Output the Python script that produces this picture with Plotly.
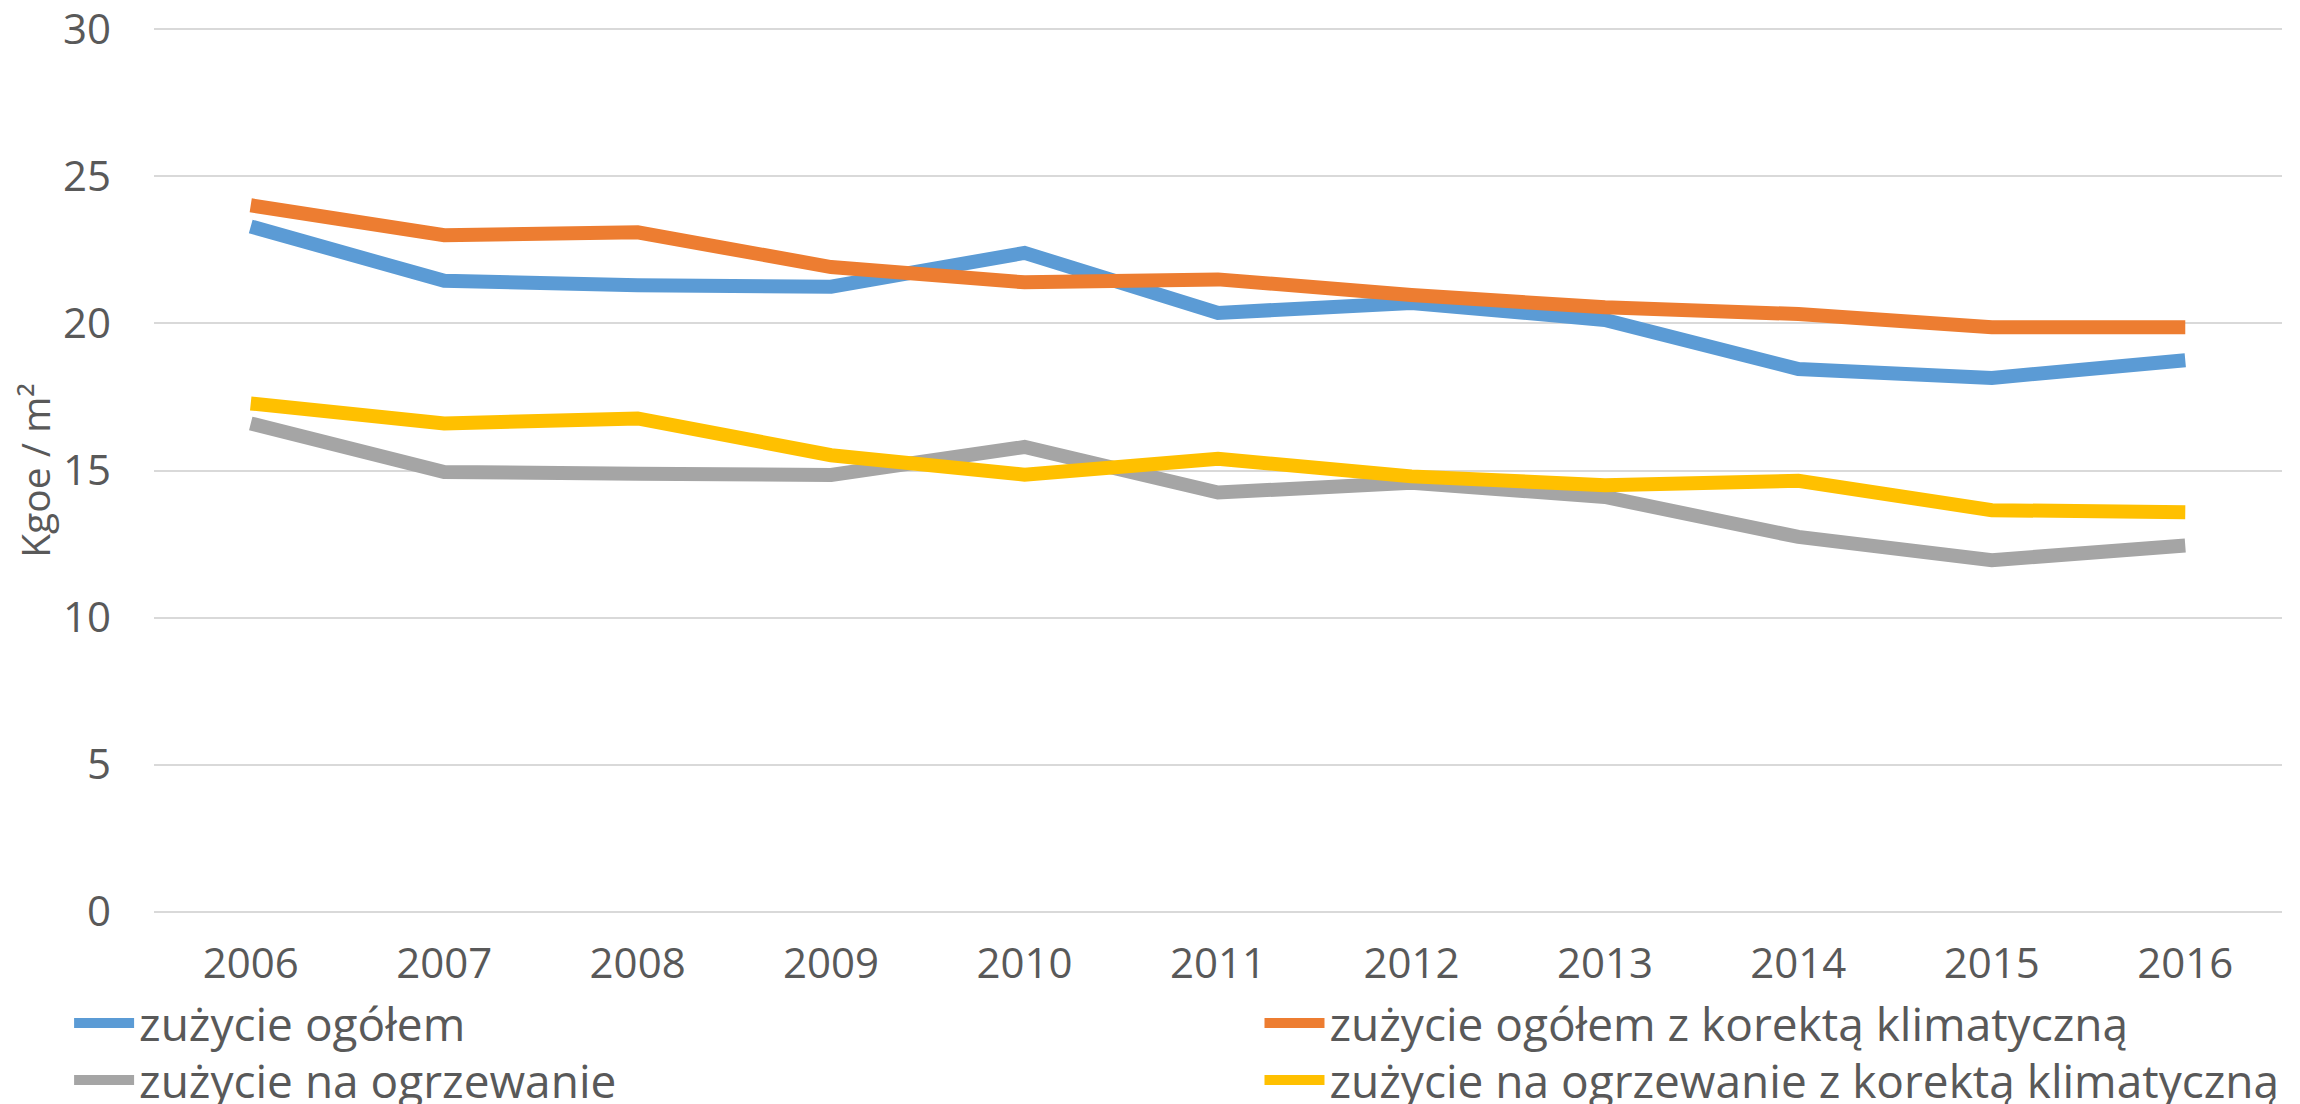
import plotly.graph_objects as go

years = ["2006", "2007", "2008", "2009", "2010", "2011", "2012", "2013", "2014", "2015", "2016"]
ogolem = [23.3, 21.45, 21.3, 21.25, 22.4, 20.36, 20.7, 20.12, 18.45, 18.15, 18.75]
ogolem_kor = [24.02, 23.0, 23.1, 21.92, 21.4, 21.5, 20.97, 20.55, 20.32, 19.87, 19.87]
ogrzewanie = [16.6, 14.95, 14.89, 14.85, 15.8, 14.25, 14.58, 14.1, 12.74, 11.95, 12.45]
ogrzewanie_kor = [17.28, 16.6, 16.77, 15.52, 14.86, 15.4, 14.8, 14.5, 14.65, 13.65, 13.58]
y_ticks = [0, 5, 10, 15, 20, 25, 30]

names = ["zużycie ogółem", "zużycie ogółem z korektą klimatyczną",
         "zużycie na ogrzewanie", "zużycie na ogrzewanie z korektą klimatyczną"]
colors = ["#5B9BD5", "#ED7D31", "#A5A5A5", "#FFC000"]
series = [ogolem, ogolem_kor, ogrzewanie, ogrzewanie_kor]
legend_ids = ["legend", "legend2", "legend3", "legend4"]

FONT = "Open Sans, Lato, sans-serif"
TXT = "#595959"

fig = go.Figure()
for name, col, vals, lg in zip(names, colors, series, legend_ids):
    fig.add_trace(go.Scatter(x=years, y=vals, name=name, mode="lines",
                             line=dict(color=col, width=14), legend=lg))

col_x = [-0.0399, 0.5195]
row_y = [-0.1243, -0.1888]
leg_common = dict(orientation="v", xanchor="left", yanchor="middle",
                  font=dict(size=46, color=TXT, family=FONT),
                  bgcolor="rgba(0,0,0,0)", itemwidth=60)

fig.update_layout(
    width=2292, height=1096,
    paper_bgcolor="white", plot_bgcolor="white",
    margin=dict(l=146, r=18, t=20, b=191, autoexpand=False),
    font=dict(family=FONT, color=TXT, size=42),
    showlegend=True,
    legend=dict(x=col_x[0], y=row_y[0], **leg_common),
    legend2=dict(x=col_x[1], y=row_y[0], **leg_common),
    legend3=dict(x=col_x[0], y=row_y[1], **leg_common),
    legend4=dict(x=col_x[1], y=row_y[1], **leg_common),
    xaxis=dict(type="category", range=[-0.5, 10.5], showgrid=False, zeroline=False,
               showline=False, ticks="", ticklabelstandoff=22,
               tickfont=dict(size=42, color=TXT, family=FONT)),
    yaxis=dict(range=[-0.05, 30.05], tickvals=y_ticks, ticklabeloverflow="allow",
               showgrid=True, gridcolor="#D9D9D9", gridwidth=2, zeroline=False,
               showline=False, ticks="", ticklabelstandoff=42,
               tickfont=dict(size=42, color=TXT, family=FONT),
               title=dict(text="Kgoe / m²", font=dict(size=39, color=TXT, family=FONT),
                          standoff=0)),
)

fig.write_html("out.html")
